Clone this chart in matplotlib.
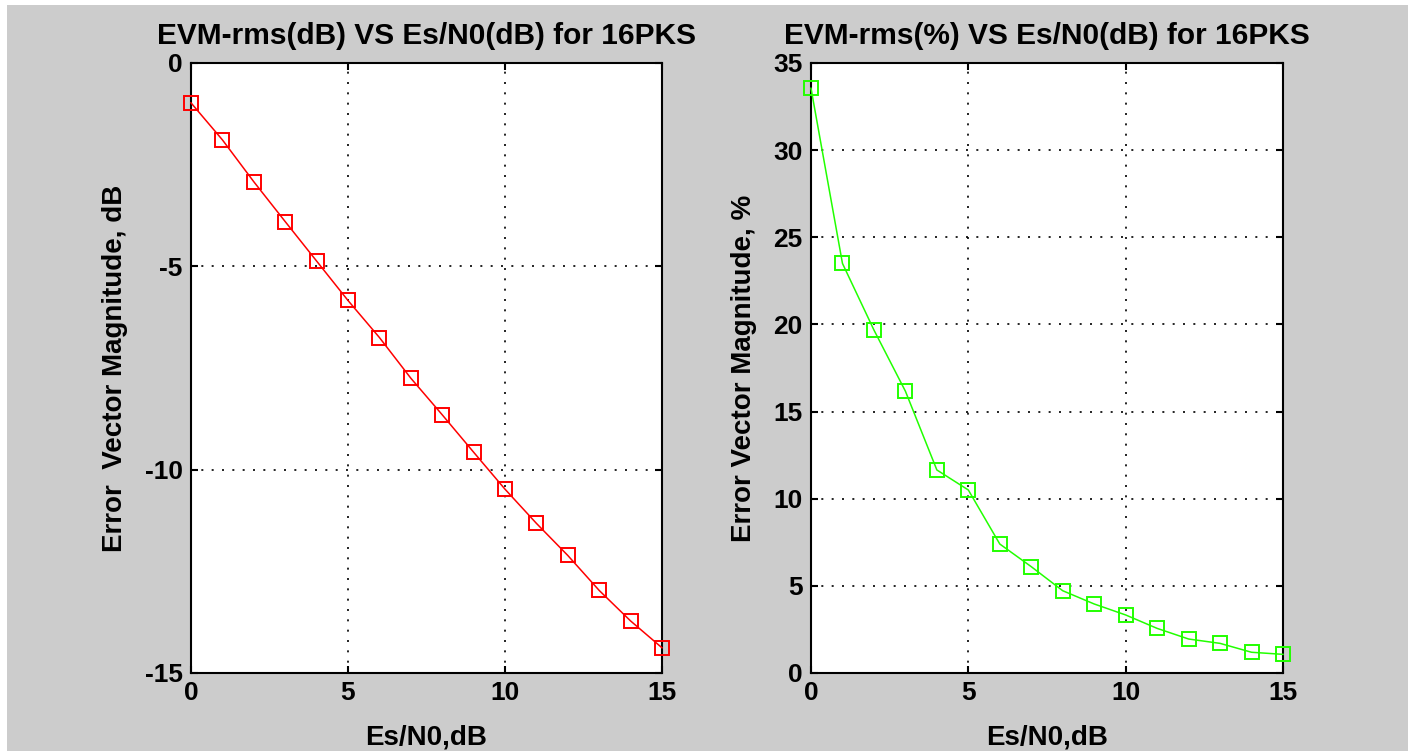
import matplotlib
matplotlib.use("Agg")
import matplotlib.pyplot as plt
from matplotlib.patches import Rectangle

# ---- data ----
esn0_db = list(range(0, 16))
evm_db = [-0.98, -1.89, -2.92, -3.90, -4.87, -5.84, -6.75, -7.75, -8.65, -9.57,
          -10.48, -11.32, -12.11, -12.97, -13.72, -14.38]
evm_pct = [33.55, 23.5, 19.68, 16.17, 11.65, 10.5, 7.40, 6.10, 4.72, 3.96,
           3.33, 2.56, 1.95, 1.70, 1.19, 1.07]

left_xticks = [0, 5, 10, 15]
left_yticks = [0, -5, -10, -15]
right_yticks = [0, 5, 10, 15, 20, 25, 30, 35]

title_left = "EVM-rms(dB) VS Es/N0(dB) for 16PKS"
title_right = "EVM-rms(%) VS Es/N0(dB) for 16PKS"
xlabel = "Es/N0,dB"
ylabel_left = "Error  Vector Magnitude, dB"
ylabel_right = "Error Vector Magnitude, %"

plt.rcParams['font.family'] = ['Liberation Sans', 'DejaVu Sans']
plt.rcParams['font.weight'] = 'bold'
plt.rcParams['axes.unicode_minus'] = False

W, H = 1408, 751
fig = plt.figure(figsize=(W / 100, H / 100), dpi=100)
fig.patch.set_facecolor('white')
fig.add_artist(Rectangle((7 / W, 0), 1 - 7 / W, 1 - 5 / H, transform=fig.transFigure,
                         facecolor='#cccccc', edgecolor='none', zorder=-10))

def make_axes(x0, x1, y0, y1):
    return fig.add_axes([x0 / W, 1 - y1 / H, (x1 - x0) / W, (y1 - y0) / H])

axL = make_axes(191, 662, 63, 673)
axR = make_axes(811, 1283, 63, 673)

def style(ax, ylim, yticks, title, ylab):
    ax.set_facecolor('white')
    ax.set_xlim(0, 15)
    ax.set_ylim(*ylim)
    ax.set_xticks(left_xticks)
    ax.set_yticks(yticks)
    ax.tick_params(direction='in', length=5, width=1.5, top=True, right=True,
                   labelsize=19, pad=6, color='black')
    for lab in ax.get_xticklabels() + ax.get_yticklabels():
        lab.set_fontweight('bold')
    for s in ax.spines.values():
        s.set_linewidth(1.5)
        s.set_color('black')
    ax.grid(True, color='black', linestyle=(0, (1.2, 5)), linewidth=1.2)
    ax.set_axisbelow(True)
    ax.set_title(title, fontsize=21.5, fontweight='bold', pad=14)
    ax.set_xlabel(xlabel, fontsize=20, fontweight='bold', labelpad=14)
    ax.set_ylabel(ylab, fontsize=20, fontweight='bold', labelpad=12)

axL.plot(esn0_db, evm_db, color='#ff0000', linewidth=1.1, marker='s', markersize=10,
         markerfacecolor='none', markeredgecolor='#ff0000', markeredgewidth=1.4,
         clip_on=False, zorder=3)
style(axL, (-15, 0), left_yticks, title_left, ylabel_left)

axR.plot(esn0_db, evm_pct, color='#22ff00', linewidth=1.1, marker='s', markersize=10,
         markerfacecolor='none', markeredgecolor='#22ff00', markeredgewidth=1.4,
         clip_on=False, zorder=3)
style(axR, (0, 35), right_yticks, title_right, ylabel_right)

fig.savefig('out.png', dpi=100)
